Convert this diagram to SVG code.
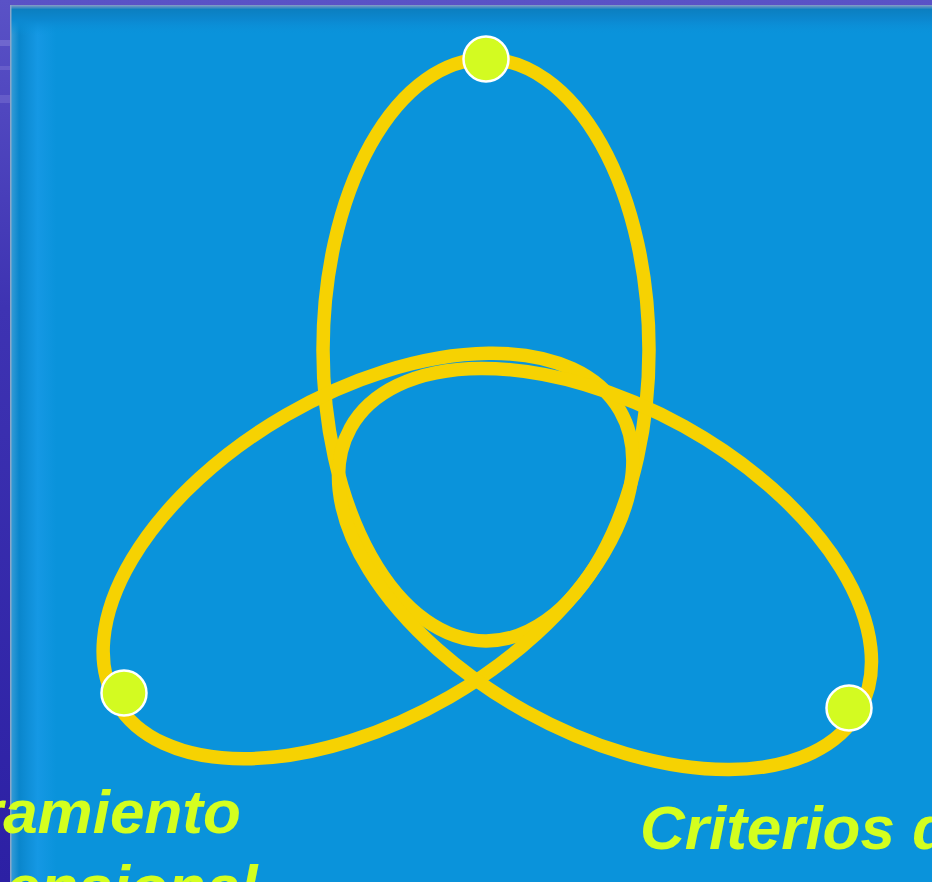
<svg xmlns="http://www.w3.org/2000/svg" width="932" height="882" viewBox="0 0 932 882">
  <defs>
    <linearGradient id="outer" x1="0" y1="0" x2="0" y2="1">
      <stop offset="0" stop-color="#5a52c6"/>
      <stop offset="0.35" stop-color="#3e33b2"/>
      <stop offset="1" stop-color="#2c20a4"/>
    </linearGradient>
    <linearGradient id="panel" x1="0" y1="0" x2="1" y2="0">
      <stop offset="0" stop-color="#3a9fd8"/>
      <stop offset="0.01" stop-color="#0a86cc"/>
      <stop offset="0.03" stop-color="#1598e4"/>
      <stop offset="0.05" stop-color="#0a93db"/>
      <stop offset="1" stop-color="#0a93db"/>
    </linearGradient>
    <linearGradient id="topband" x1="0" y1="0" x2="0" y2="1">
      <stop offset="0" stop-color="#8a9cc6"/>
      <stop offset="0.15" stop-color="#0c7fc0"/>
      <stop offset="0.5" stop-color="#0c88d0"/>
      <stop offset="1" stop-color="#0a93db" stop-opacity="0"/>
    </linearGradient>
  </defs>
  <style>
    .ring { fill: none; stroke: #f6d202; stroke-width: 13.5; }
    .dot { fill: #d3fb21; stroke: #ffffff; stroke-width: 2.5; }
    .label { font-family: "Liberation Sans", Arial, sans-serif; font-weight: bold; font-style: italic; font-size: 62px; fill: #d4ff1f; }
  </style>

  <rect x="0" y="0" width="932" height="882" fill="url(#outer)"/>
  <rect x="0" y="40" width="10" height="6" fill="#8078d6" opacity="0.6"/>
  <rect x="0" y="66" width="10" height="4" fill="#7a70d2" opacity="0.5"/>
  <rect x="0" y="95" width="10" height="8" fill="#7a70d2" opacity="0.5"/>
  <rect x="10" y="5" width="922" height="877" fill="url(#panel)"/>
  <rect x="10" y="5" width="922" height="30" fill="url(#topband)"/>
  <rect x="10" y="5" width="1.5" height="877" fill="#8aa6c8"/>

  <g id="connectors"/>

  <g id="ellipse-top">
    <ellipse class="ring" cx="486" cy="350" rx="163" ry="291"/>
  </g>
  <g id="ellipse-left">
    <ellipse class="ring" cx="0" cy="0" rx="163" ry="291" transform="translate(368 556) rotate(60)"/>
  </g>
  <g id="ellipse-right">
    <ellipse class="ring" cx="0" cy="0" rx="163" ry="291" transform="translate(605 569) rotate(-61)"/>
  </g>

  <g id="node-top"><circle class="dot" cx="486" cy="59" r="22.5"/></g>
  <g id="node-left"><circle class="dot" cx="124" cy="693" r="22.5"/></g>
  <g id="node-right"><circle class="dot" cx="849" cy="708" r="22.5"/></g>

  <g id="labels">
    <text class="label" x="-21" y="833">ramiento</text>
    <text class="label" x="6" y="908">ensional</text>
    <text class="label" x="640" y="849">Criterios de</text>
  </g>
</svg>
